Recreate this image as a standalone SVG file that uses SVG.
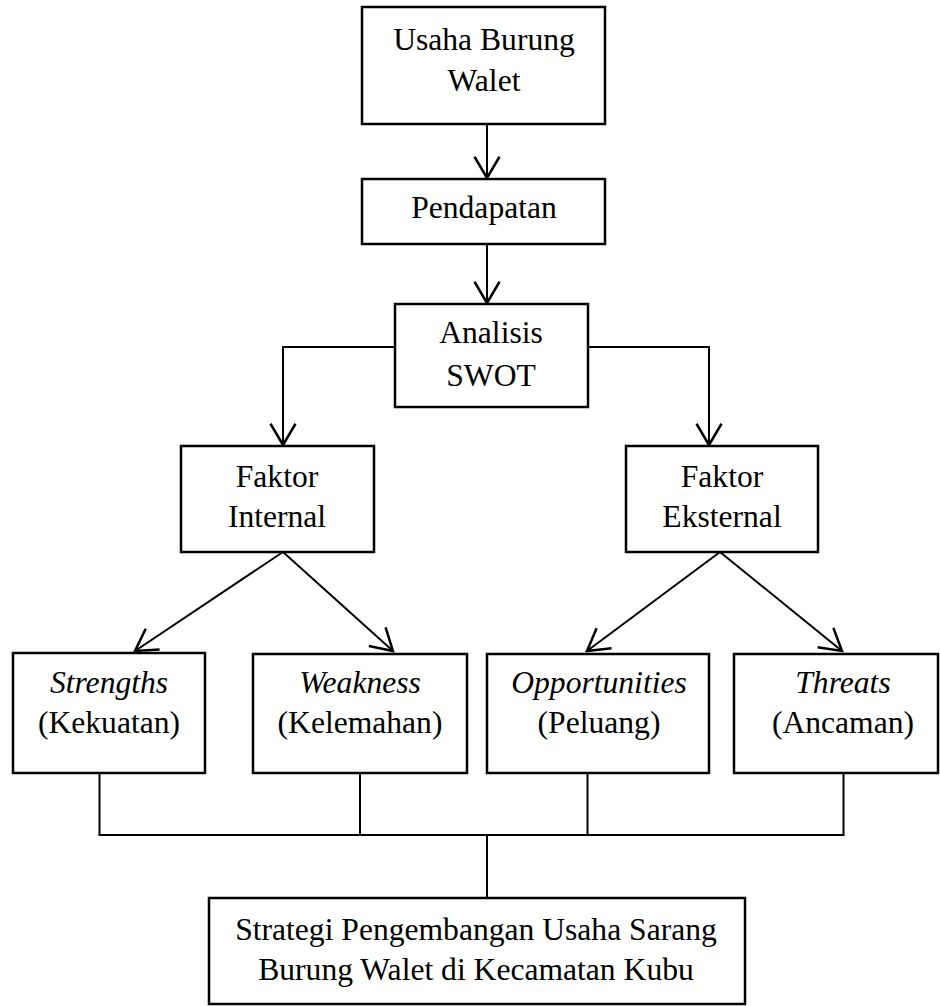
<svg xmlns="http://www.w3.org/2000/svg" width="940" height="1006" viewBox="0 0 940 1006">
<style>
.box{fill:#fff;stroke:#000;stroke-width:2.5}
.ln{fill:none;stroke:#000;stroke-width:2}
.t{font-family:'Liberation Serif','Times New Roman',Tinos,'DejaVu Serif',serif;font-size:31.6px;fill:#000;text-anchor:middle}
.i{font-style:italic}
</style>
<defs>
<marker id="arr" markerUnits="userSpaceOnUse" markerWidth="30" markerHeight="30" viewBox="-20 -12 24 24" refX="0" refY="0" orient="auto" overflow="visible">
<path d="M-17,-10 L0,0 L-17,10" fill="none" stroke="#000" stroke-width="2"/>
</marker>
</defs>
<rect width="940" height="1006" fill="#fff"/>
<g id="connectors">
<line class="ln" x1="487" y1="124" x2="487" y2="178" marker-end="url(#arr)"/>
<line class="ln" x1="487" y1="244" x2="487" y2="303" marker-end="url(#arr)"/>
<polyline class="ln" points="395,347 283,347 283,445" marker-end="url(#arr)"/>
<polyline class="ln" points="588,347 709,347 709,445" marker-end="url(#arr)"/>
<line class="ln" x1="283" y1="552" x2="135" y2="651" marker-end="url(#arr)"/>
<line class="ln" x1="283" y1="552" x2="393" y2="651" marker-end="url(#arr)"/>
<line class="ln" x1="720" y1="552" x2="587" y2="651" marker-end="url(#arr)"/>
<line class="ln" x1="720" y1="552" x2="842" y2="651" marker-end="url(#arr)"/>
<line class="ln" x1="99.5" y1="773" x2="99.5" y2="835"/>
<line class="ln" x1="360" y1="773" x2="360" y2="835"/>
<line class="ln" x1="587.5" y1="773" x2="587.5" y2="835"/>
<line class="ln" x1="843.5" y1="773" x2="843.5" y2="835"/>
<line class="ln" x1="98.5" y1="835" x2="844.5" y2="835"/>
<line class="ln" x1="487" y1="835" x2="487" y2="898"/>
</g>
<g id="usaha">
<rect class="box" x="362" y="7" width="243" height="117"/>
<text class="t" x="484" y="50">Usaha Burung</text>
<text class="t" x="484" y="91">Walet</text>
</g>
<g id="pendapatan">
<rect class="box" x="362" y="179" width="243" height="65"/>
<text class="t" x="484" y="218">Pendapatan</text>
</g>
<g id="swot">
<rect class="box" x="395" y="304" width="193" height="103"/>
<text class="t" x="491" y="343">Analisis</text>
<text class="t" x="491" y="386">SWOT</text>
</g>
<g id="internal">
<rect class="box" x="181" y="446" width="193" height="106"/>
<text class="t" x="277" y="487">Faktor</text>
<text class="t" x="277" y="527">Internal</text>
</g>
<g id="eksternal">
<rect class="box" x="626" y="446" width="192" height="106"/>
<text class="t" x="722" y="487">Faktor</text>
<text class="t" x="722" y="527">Eksternal</text>
</g>
<g id="strengths">
<rect class="box" x="13" y="653" width="192" height="120"/>
<text class="t i" x="109" y="693">Strengths</text>
<text class="t" x="109" y="733">(Kekuatan)</text>
</g>
<g id="weakness">
<rect class="box" x="253" y="654" width="214" height="119"/>
<text class="t i" x="360" y="693">Weakness</text>
<text class="t" x="360" y="733">(Kelemahan)</text>
</g>
<g id="opportunities">
<rect class="box" x="487" y="654" width="222" height="119"/>
<text class="t i" x="599" y="693">Opportunities</text>
<text class="t" x="599" y="733">(Peluang)</text>
</g>
<g id="threats">
<rect class="box" x="734" y="654" width="204" height="119"/>
<text class="t i" x="843" y="693">Threats</text>
<text class="t" x="843" y="733">(Ancaman)</text>
</g>
<g id="strategi">
<rect class="box" x="209" y="898" width="536" height="106"/>
<text class="t" x="476" y="940">Strategi Pengembangan Usaha Sarang</text>
<text class="t" x="476" y="980">Burung Walet di Kecamatan Kubu</text>
</g>
</svg>
